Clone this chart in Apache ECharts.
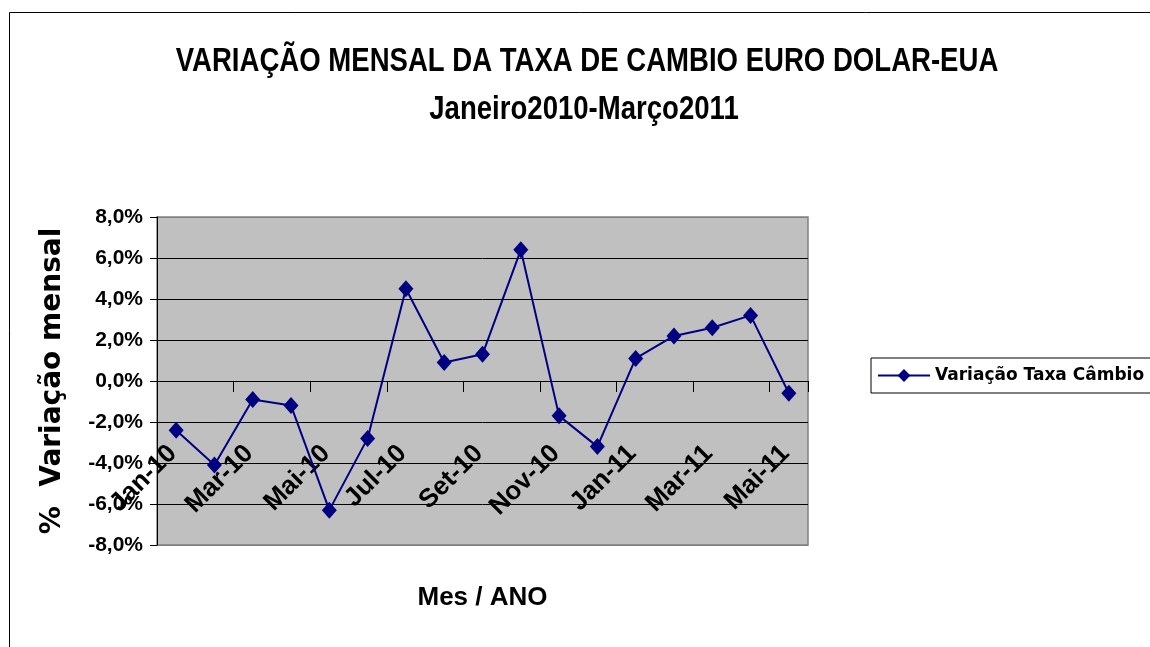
<!DOCTYPE html>
<html>
<head>
<meta charset="utf-8">
<script src="https://cdn.jsdelivr.net/npm/echarts@6/dist/echarts.min.js"></script>
<style>html,body{margin:0;padding:0;background:#fff;}#c{width:1150px;height:647px;}</style>
</head>
<body>
<div id="c"></div>
<script>
const months = ['Jan-10','Fev-10','Mar-10','Abr-10','Mai-10','Jun-10','Jul-10','Ago-10','Set-10','Out-10','Nov-10','Dez-10','Jan-11','Fev-11','Mar-11','Abr-11','Mai-11'];
const variacao = [-2.4,-4.1,-0.9,-1.2,-6.3,-2.8,4.5,0.9,1.3,6.4,-1.7,-3.2,1.1,2.2,2.6,3.2,-0.6];
const seriesName = 'Variação Taxa Câmbio';
const titleLine1 = 'VARIAÇÃO MENSAL DA TAXA DE CAMBIO EURO DOLAR-EUA';
const titleLine2 = 'Janeiro2010-Março2011';
const yName = '%  Variação mensal';
const xName = 'Mes / ANO';

const titleFont = {fontFamily: '"Liberation Sans", Arial, sans-serif', fontWeight: 'bold', fontSize: 33, fill: '#000', align: 'center', verticalAlign: 'top'};

const chart = echarts.init(document.getElementById('c'));
chart.setOption({
  animation: false,
  backgroundColor: '#fff',
  graphic: [
    {type: 'rect', shape: {x: 9.5, y: 12.5, width: 1200, height: 700}, style: {fill: 'none', stroke: '#000', lineWidth: 1}, silent: true},
    {type: 'text', x: 587, y: 45, scaleX: 0.835, style: Object.assign({text: titleLine1}, titleFont)},
    {type: 'text', x: 584, y: 93, scaleX: 0.835, style: Object.assign({text: titleLine2}, titleFont)}
  ],
  legend: {
    left: 871, top: 358, orient: 'vertical',
    padding: [9, 40, 9, 6],
    borderColor: '#000', borderWidth: 1,
    itemWidth: 52, itemHeight: 16, itemGap: 4,
    textStyle: {fontFamily: '"DejaVu Sans", sans-serif', fontWeight: 'bold', fontSize: 17, color: '#000'},
    data: [seriesName]
  },
  grid: {left: 157, top: 217, width: 651, height: 328, show: true, backgroundColor: '#C0C0C0', borderColor: '#808080', borderWidth: 1.5, outerBoundsMode: 'none', containLabel: false},
  xAxis: {
    type: 'category', data: months, boundaryGap: true,
    axisLine: {onZero: true, lineStyle: {color: '#000', width: 1}},
    axisTick: {show: true, interval: 1, length: 11, lineStyle: {color: '#000'}},
    axisLabel: {interval: 1, rotate: 45, margin: -99, padding: [0, 5, 0, 0], fontFamily: '"Liberation Sans", Arial, sans-serif', fontWeight: 'bold', fontSize: 26, color: '#000'},
    name: xName, nameLocation: 'middle', nameGap: 40, nameMoveOverlap: false,
    nameTextStyle: {fontFamily: '"Liberation Sans", Arial, sans-serif', fontWeight: 'bold', fontSize: 26, color: '#000', verticalAlign: 'top'}
  },
  yAxis: {
    type: 'value', min: -8, max: 8, interval: 2,
    axisLine: {show: true, lineStyle: {color: '#000', width: 1}},
    axisTick: {show: true, length: 7, lineStyle: {color: '#000'}},
    axisLabel: {margin: 14, formatter: v => v.toFixed(1).replace('.', ',') + '%', fontFamily: '"Liberation Sans", Arial, sans-serif', fontWeight: 'bold', fontSize: 21, color: '#000'},
    splitLine: {show: true, lineStyle: {color: ['#808080','#000','#000','#000','#000','#000','#000','#000','#808080'], width: 1}},
    name: yName, nameLocation: 'middle', nameRotate: 90, nameGap: 90,
    nameTextStyle: {fontFamily: '"DejaVu Sans", sans-serif', fontWeight: 'bold', fontSize: 28, color: '#000'}
  },
  series: [{
    name: seriesName, type: 'line', data: variacao,
    symbol: 'diamond', symbolSize: [15, 17],
    lineStyle: {color: '#000080', width: 2},
    itemStyle: {color: '#000080'}
  }]
});
</script>
</body>
</html>
